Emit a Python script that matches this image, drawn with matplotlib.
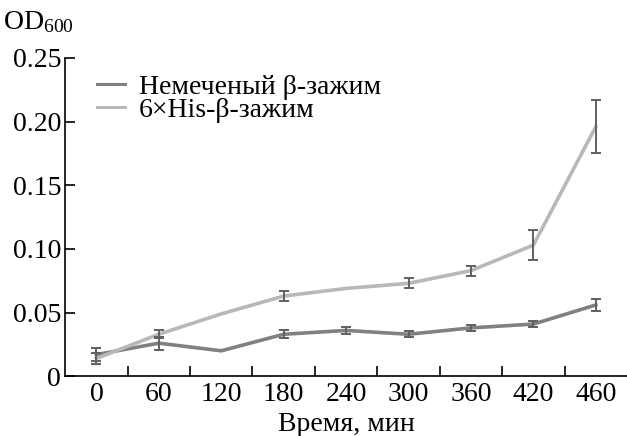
import numpy as np
import matplotlib.pyplot as plt

plt.rcParams['font.family'] = ['Liberation Serif', 'DejaVu Serif']
plt.rcParams['mathtext.fontset'] = 'custom'
plt.rcParams['mathtext.rm'] = 'Liberation Serif'

# Données
temps = ['0', '60', '120', '180', '240', '300', '360', '420', '460']
non_marque = [0.017, 0.026, 0.020, 0.033, 0.036, 0.033, 0.038, 0.041, 0.056]
non_marque_err = [0.005, 0.005, 0.0, 0.003, 0.0025, 0.0025, 0.0025, 0.0025, 0.005]
his = [0.014, 0.033, 0.049, 0.063, 0.069, 0.073, 0.083, 0.103, 0.196]
his_err = [0.004, 0.003, 0.0, 0.004, 0.0, 0.004, 0.004, 0.012, 0.021]

fig = plt.figure(figsize=(6.27, 4.36), dpi=100)
ax = fig.add_axes([0.104, 0.137, 0.896, 0.730])

x = np.arange(len(temps))
ax.plot(x, non_marque, color='#808080', lw=2.6, label='Немеченый β-зажим', zorder=2)
ax.plot(x, his, color='#b8b8b8', lw=2.6, label='6×His-β-зажим', zorder=2)

# barres d'erreur
for vals, errs in [(non_marque, non_marque_err), (his, his_err)]:
    xe = [xi for xi, e in zip(x, errs) if e > 0]
    ye = [v for v, e in zip(vals, errs) if e > 0]
    ee = [e for e in errs if e > 0]
    ax.errorbar(xe, ye, yerr=ee, fmt='none', ecolor='#606060', elinewidth=1.4,
                capsize=3.5, capthick=1.4, zorder=3)

ax.set_xlim(-0.5, len(temps) - 0.5)
ax.set_ylim(0, 0.25)
ax.set_xticks(x)
ax.set_xticklabels(temps)
ax.set_xticks(np.arange(0.5, len(temps) - 0.5), minor=True)
ax.tick_params(axis='x', which='major', length=0, labelsize=20, pad=4)
ax.tick_params(axis='x', which='minor', direction='in', length=7, width=1.2)
ax.set_yticks([0, 0.05, 0.10, 0.15, 0.20, 0.25])
ax.set_yticklabels(['0', '0.05', '0.10', '0.15', '0.20', '0.25'])
ax.tick_params(axis='y', direction='in', length=7, width=1.2, labelsize=20, pad=3)

ax.spines['top'].set_visible(False)
ax.spines['right'].set_visible(False)
ax.spines['left'].set_linewidth(1.2)
ax.spines['bottom'].set_linewidth(1.2)

ax.set_xlabel('Время, мин', fontsize=20, labelpad=4)
fig.text(0.005, 0.92, r'$\mathregular{OD_{600}}$', fontsize=20, ha='left', va='bottom')

leg = ax.legend(loc='upper left', bbox_to_anchor=(0.012, 1.026), frameon=False,
                fontsize=20, handlelength=1.0, handletextpad=0.5, labelspacing=-0.1)
for line in leg.get_lines():
    line.set_linewidth(2.2)

plt.savefig('out.png', dpi=100)
